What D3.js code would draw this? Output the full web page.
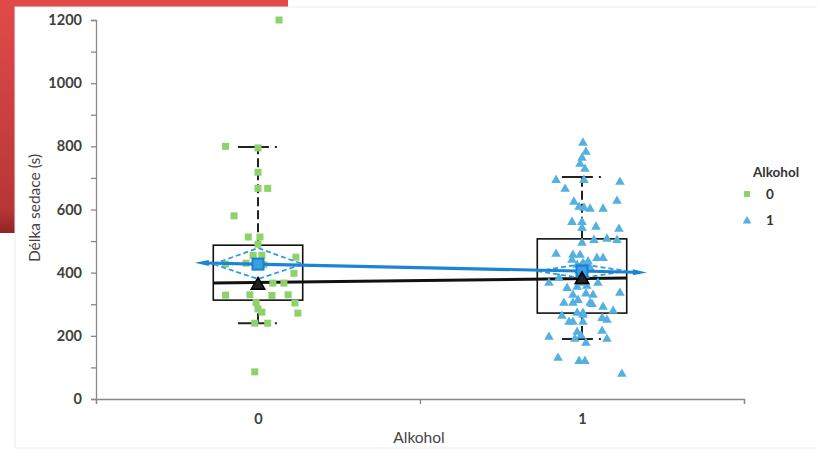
<!DOCTYPE html>
<html><head><meta charset="utf-8">
<script src="https://cdn.jsdelivr.net/npm/d3@7"></script>
<style>body{margin:0;background:#fff}svg{display:block}</style>
</head><body>
<svg id="c" width="817" height="451"></svg>
<script>
const categories = ["0", "1"];
const yTicks = [0, 200, 400, 600, 800, 1000, 1200];
// Group 0 values (s) and horizontal jitter (category units)
const values0 = [1200, 800, 795, 718, 667, 667, 580, 513, 513, 490, 455, 455, 449, 427, 430, 425, 398, 367, 367, 360, 329, 330, 328, 330, 304, 272, 305, 285, 275, 240, 240, 86];
const jitter0 = [0.065, -0.10, 0, 0, 0, 0.03, -0.074, -0.03, 0.006, 0, -0.015, 0.012, 0.117, -0.10, -0.037, 0.018, 0.111, 0.046, 0.08, 0, -0.10, -0.025, 0.043, 0.093, 0.114, 0.123, -0.006, 0, 0.012, -0.01, 0.03, -0.01];
// Group 1 values (s) and jitter
const values1 = [811, 782, 763, 744, 728, 693, 687, 693, 665, 624, 627, 608, 605, 602, 602, 560, 560, 545, 541, 538, 503, 507, 503, 494, 459, 456, 456, 446, 446,
  440, 435, 424, 424, 415, 420, 410, 430, 405, 383, 367, 367, 367, 370, 355, 351, 358, 336, 329, 333, 329, 313, 304, 304, 304, 300, 291, 279, 272, 272, 263, 266, 256, 250, 244, 244, 244, 212, 215, 196, 200, 177, 190, 190, 130, 120, 120, 79];
const jitter1 = [0.003, 0.012, 0, -0.006, 0.009, -0.08, 0.117, 0.006, -0.052, -0.025, 0.108, -0.009, 0.006, 0.025, 0.065, -0.031, 0, 0.043, 0, 0.114, 0.037, 0.077, 0.108, 0, -0.08, -0.028, -0.006, 0.046, 0.065,
  -0.031, 0.019, -0.015, 0.009, 0.025, -0.003, 0.012, 0.003, -0.009, -0.071, -0.102, 0.049, -0.006, 0.009, -0.015, -0.046, 0.015, 0.117, -0.028, 0.012, 0.034, -0.012, -0.056, -0.028, 0.025, 0.031, 0.065, 0.096, -0.015, 0.003, -0.062, 0.003, 0.062, 0.077, -0.04, -0.028, 0.003, -0.015, 0.062, -0.102, -0.003, 0.012, -0.022, 0.077, -0.074, -0.009, 0.009, 0.123];
// Summary statistics
const q1 = [313, 272];
const median = [367, 383];
const q3 = [487, 507];
const whiskerLow = [240, 190];
const whiskerHigh = [798, 703];
const mean = [427, 405];
const ciLow = [380, 383];
const ciHigh = [478, 427];
const medianMarker = [360, 378];

const svg = d3.select("#c");
// background slide decoration
const defs = svg.append("defs");
const g1 = defs.append("linearGradient").attr("id", "red").attr("x1", 0).attr("y1", 0).attr("x2", 0).attr("y2", 1);
g1.append("stop").attr("offset", 0).attr("stop-color", "#e24a4a");
g1.append("stop").attr("offset", 0.9).attr("stop-color", "#b83636");
g1.append("stop").attr("offset", 1).attr("stop-color", "#8e2424");
svg.append("rect").attr("x", 0).attr("y", 0).attr("width", 288).attr("height", 233).attr("fill", "url(#red)");
svg.append("rect").attr("x", 15).attr("y", 7).attr("width", 830).attr("height", 441).attr("fill", "#fff").attr("stroke", "#ececec");

const x = d3.scaleLinear().domain([-0.5, 1.5]).range([96, 744]);
const y = d3.scaleLinear().domain([0, 1200]).range([399, 20]);
const font = "Lato, 'Open Sans', sans-serif";

// axes
const ya = svg.append("g").attr("transform", "translate(96,0)")
  .call(d3.axisLeft(y).tickValues(d3.range(0, 1201, 100)).tickFormat(d => yTicks.includes(d) ? d : "").tickSize(5).tickPadding(9));
ya.select(".domain").attr("stroke", "#888").attr("stroke-width", 1.3);
ya.selectAll(".tick line").attr("stroke", "#888").attr("stroke-width", 1.3);
ya.selectAll("text").attr("font-family", font).attr("font-size", 14.5).attr("font-weight", "bold").attr("fill", "#404040");

const xa = svg.append("g").attr("transform", "translate(0,399)")
  .call(d3.axisBottom(x).tickValues([-0.5, 0.5, 1.5]).tickFormat("").tickSize(5));
xa.select(".domain").attr("stroke", "#888").attr("stroke-width", 1.3);
xa.selectAll(".tick line").attr("stroke", "#888").attr("stroke-width", 1.3);
const xl = svg.append("g").attr("transform", "translate(0,399)")
  .call(d3.axisBottom(x).tickValues([0, 1]).tickFormat(d => categories[d]).tickSize(0).tickPadding(15));
xl.select(".domain").remove();
xl.selectAll("text").attr("font-family", font).attr("font-size", 14.5).attr("font-weight", "bold").attr("fill", "#404040");

svg.append("text").attr("x", 419).attr("y", 443).attr("text-anchor", "middle")
  .attr("font-family", font).attr("font-size", 15.5).attr("fill", "#444").text("Alkohol");
svg.append("text").attr("transform", "translate(40,208) rotate(-90)").attr("text-anchor", "middle")
  .attr("font-family", font).attr("font-size", 15.5).attr("fill", "#444").text("Délka sedace (s)");

const hw = 0.138; // box half width in category units
const idx = [0, 1];
// whiskers
const wg = svg.append("g").attr("stroke", "#222").attr("stroke-width", 2).attr("stroke-dasharray", "9,4");
idx.forEach(i => {
  wg.append("line").attr("x1", x(i)).attr("x2", x(i)).attr("y1", y(q3[i])).attr("y2", y(whiskerHigh[i]));
  wg.append("line").attr("x1", x(i)).attr("x2", x(i)).attr("y1", y(q1[i])).attr("y2", y(whiskerLow[i]));
  wg.append("line").attr("x1", x(i - 0.062)).attr("x2", x(i + 0.062)).attr("y1", y(whiskerHigh[i])).attr("y2", y(whiskerHigh[i])).attr("stroke-dasharray", "31,6,2,40");
  wg.append("line").attr("x1", x(i - 0.062)).attr("x2", x(i + 0.062)).attr("y1", y(whiskerLow[i])).attr("y2", y(whiskerLow[i])).attr("stroke-dasharray", "31,6,2,40");
});
// boxes
svg.append("g").selectAll("rect").data(idx).join("rect")
  .attr("x", i => x(i - hw)).attr("width", i => x(i + hw) - x(i - hw))
  .attr("y", i => y(q3[i])).attr("height", i => y(q1[i]) - y(q3[i]))
  .attr("fill", "none").attr("stroke", "#111").attr("stroke-width", 1.6);
// median connecting line
svg.append("line").attr("x1", x(0 - hw)).attr("y1", y(median[0])).attr("x2", x(1 + hw)).attr("y2", y(median[1]))
  .attr("stroke", "#111").attr("stroke-width", 3);

// points
svg.append("g").selectAll("rect").data(values0).join("rect")
  .attr("x", (d, i) => x(jitter0[i]) - 3.5).attr("y", d => y(d) - 3.5).attr("width", 7).attr("height", 7)
  .attr("fill", "#8fd16b");
const tri = d3.symbol().type(d3.symbolTriangle).size(40);
svg.append("g").selectAll("path").data(values1).join("path")
  .attr("d", tri).attr("transform", (d, i) => `translate(${x(1 + jitter1[i])},${y(d)})`)
  .attr("fill", "#55b0e2");

// CI diamonds
const dg = svg.append("g");
idx.forEach(i => {
  const pts = [[x(i - hw), y(mean[i])], [x(i), y(ciHigh[i])], [x(i + hw), y(mean[i])], [x(i), y(ciLow[i])]];
  dg.append("path").attr("d", "M" + pts.join("L") + "Z").attr("fill", "none")
    .attr("stroke", "#2f9be0").attr("stroke-width", 1.8).attr("stroke-dasharray", "5,3");
});
// mean connecting line with tapered ends
const mx0 = x(-0.195), mx1 = x(1.2);
const slope = (y(mean[1]) - y(mean[0])) / (x(1) - x(0));
const my = xx => y(mean[0]) + slope * (xx - x(0));
svg.append("line").attr("x1", mx0 + 10).attr("y1", my(mx0 + 10)).attr("x2", mx1 - 10).attr("y2", my(mx1 - 10))
  .attr("stroke", "#1b84d4").attr("stroke-width", 3.2);
[[mx0, 1], [mx1, -1]].forEach(([ex, s]) => {
  svg.append("path").attr("d", `M${ex},${my(ex)}L${ex + 14 * s},${my(ex + 14 * s) - 3}L${ex + 14 * s},${my(ex + 14 * s) + 3}Z`)
    .attr("fill", "#1b84d4");
});
// mean markers
svg.append("g").selectAll("rect").data(idx).join("rect")
  .attr("x", i => x(i) - 5.5).attr("y", i => y(mean[i]) - 5.5).attr("width", 11).attr("height", 11)
  .attr("fill", "#3aa0e6").attr("stroke", "#1b7fd0").attr("stroke-width", 2);
// median markers
const tri2 = d3.symbol().type(d3.symbolTriangle).size(80);
svg.append("g").selectAll("path").data(idx).join("path")
  .attr("d", tri2).attr("transform", i => `translate(${x(i)},${y(medianMarker[i])})`)
  .attr("fill", "#222").attr("stroke", "#000").attr("stroke-width", 1.5);

// legend
const lg = svg.append("g").attr("font-family", font).attr("font-weight", "bold").attr("fill", "#333").attr("font-size", 13.5);
lg.append("text").attr("x", 753).attr("y", 177).text("Alkohol");
lg.append("rect").attr("x", 744).attr("y", 191).attr("width", 6).attr("height", 6).attr("fill", "#8fd16b");
lg.append("text").attr("x", 766).attr("y", 199).text("0");
lg.append("path").attr("d", d3.symbol().type(d3.symbolTriangle).size(32)).attr("transform", "translate(747,221)").attr("fill", "#55b0e2");
lg.append("text").attr("x", 766).attr("y", 225).text("1");
</script>
</body></html>
